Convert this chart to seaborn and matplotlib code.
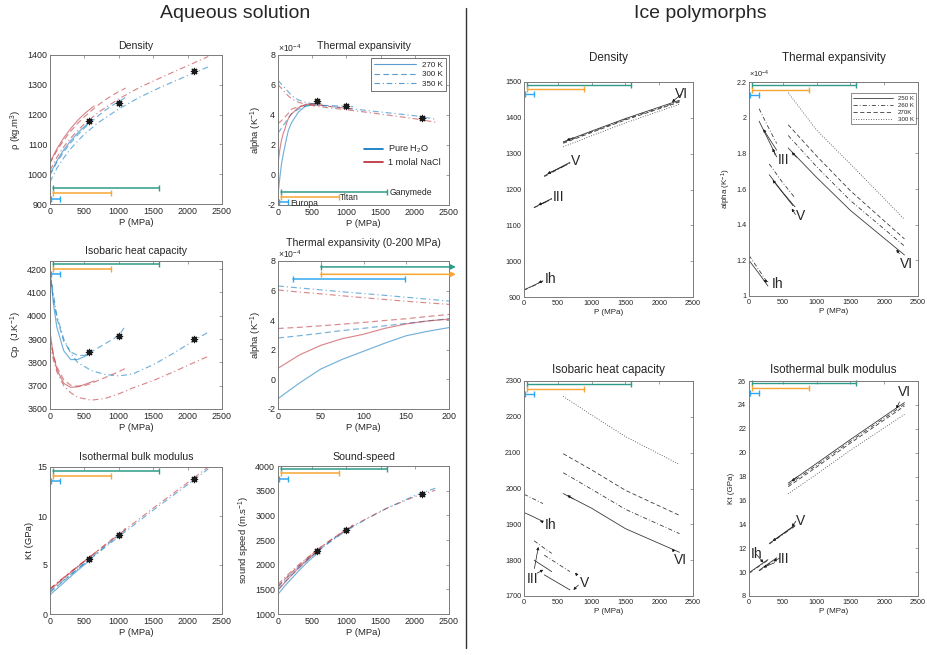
import matplotlib
matplotlib.use("Agg")
import matplotlib.pyplot as plt
from matplotlib.lines import Line2D
from matplotlib.ticker import FormatStrFormatter
import numpy as np
import pandas as pd
import seaborn as sns

sns.set_theme(style="white")
plt.rcParams["font.family"] = ["Liberation Sans", "DejaVu Sans"]
plt.rcParams["mathtext.default"] = "regular"

# ======================= DATA =======================
TEMPS_AQ = ["270 K", "300 K", "350 K"]
FLUIDS = ["Pure H$_2$O", "1 molal NaCl"]
TEMPS_ICE = ["250 K", "260 K", "270K", "300 K"]

# mission pressure ranges (MPa)
europa_P = [18, 149]
titan_P = [50, 890]
ganymede_P = [50, 1590]

# black asterisks
star_P = [570, 1000, 2100]
star_rho = [1178, 1240, 1345]
star_alpha = [4.92, 4.61, 3.80]
star_cp = [3845, 3915, 3900]
star_kt = [5.6, 8.1, 13.8]
star_vs = [2270, 2700, 3425]

# ---- aqueous density (kg/m3)
rho_P_w270 = [0, 100, 200, 300, 400, 500, 620]
rho_w270 = [1000, 1045, 1082, 1112, 1138, 1160, 1184]
rho_P_s270 = [0, 100, 200, 300, 400, 500, 640]
rho_s270 = [1040, 1085, 1122, 1153, 1180, 1203, 1229]
rho_P_300 = [0, 100, 200, 300, 400, 500, 600, 700, 800, 900, 1000, 1100]
rho_w300 = [997, 1040, 1075, 1105, 1131, 1155, 1176, 1196, 1214, 1230, 1244, 1258]
rho_s300 = [1037, 1079, 1114, 1144, 1170, 1193, 1213, 1232, 1249, 1264, 1277, 1289]
rho_P_350 = [0, 100, 200, 300, 400, 500, 700, 1000, 1300, 1600, 2000, 2300]
rho_w350 = [974, 1020, 1055, 1085, 1111, 1134, 1173, 1219, 1258, 1291, 1331, 1360]
rho_s350 = [1013, 1057, 1092, 1121, 1146, 1169, 1207, 1253, 1291, 1323, 1364, 1395]

# ---- aqueous thermal expansivity (x1e-4 1/K)
al_P_w270 = [0, 25, 50, 75, 100, 125, 150, 175, 200, 300, 400, 500, 620]
al_w270 = [-1.3, -0.25, 0.7, 1.35, 1.9, 2.45, 2.95, 3.25, 3.5, 4.2, 4.6, 4.75, 4.8]
al_P_s270 = [0, 25, 50, 75, 100, 125, 150, 175, 200, 300, 400, 500, 640]
al_s270 = [0.75, 1.65, 2.3, 2.75, 3.05, 3.45, 3.75, 3.95, 4.07, 4.5, 4.7, 4.75, 4.72]
al_P_300 = [0, 25, 50, 75, 100, 125, 150, 175, 200, 300, 400, 500, 600, 800, 1000, 1100]
al_w300 = [2.8, 2.95, 3.12, 3.3, 3.45, 3.62, 3.78, 3.95, 4.1, 4.4, 4.58, 4.65, 4.65, 4.62, 4.58, 4.55]
al_s300 = [3.44, 3.52, 3.62, 3.73, 3.85, 3.98, 4.1, 4.25, 4.39, 4.55, 4.65, 4.68, 4.65, 4.55, 4.45, 4.4]
al_P_350 = [0, 25, 50, 75, 100, 125, 150, 175, 200, 300, 400, 500, 700, 1000, 1300, 1600, 2000, 2300]
al_w350 = [6.31, 6.18, 6.05, 5.92, 5.8, 5.68, 5.55, 5.42, 5.29, 5.0, 4.85, 4.75, 4.6, 4.45, 4.3, 4.15, 3.95, 3.72]
al_s350 = [6.04, 5.9, 5.78, 5.65, 5.52, 5.4, 5.28, 5.17, 5.07, 4.85, 4.72, 4.63, 4.5, 4.35, 4.18, 4.0, 3.75, 3.52]

# ---- aqueous isobaric heat capacity (J/K)
cp_P_w270 = [0, 50, 100, 200, 300, 400, 500, 560]
cp_w270 = [4200, 4050, 3950, 3850, 3812, 3812, 3825, 3835]
cp_P_s270 = [0, 50, 100, 200, 300, 400, 500, 640]
cp_s270 = [3930, 3830, 3770, 3710, 3693, 3695, 3705, 3720]
cp_P_300 = [0, 50, 100, 200, 300, 400, 500, 600, 800, 1000, 1100]
cp_w300 = [4190, 4070, 3990, 3890, 3845, 3830, 3830, 3845, 3880, 3915, 3958]
cp_s300 = [3900, 3830, 3780, 3725, 3702, 3698, 3700, 3710, 3735, 3760, 3775]
cp_P_350 = [0, 50, 100, 200, 300, 400, 600, 800, 1000, 1200, 1500, 1800, 2100, 2300]
cp_w350 = [4190, 4090, 4000, 3900, 3840, 3800, 3765, 3748, 3742, 3750, 3790, 3840, 3895, 3930]
cp_s350 = [3880, 3810, 3760, 3700, 3670, 3650, 3638, 3645, 3665, 3690, 3722, 3760, 3800, 3826]

# ---- aqueous isothermal bulk modulus (GPa)
kt_P_w270 = [0, 200, 400, 620]
kt_w270 = [1.95, 3.2, 4.45, 5.7]
kt_P_s270 = [0, 200, 400, 640]
kt_s270 = [2.45, 3.65, 4.8, 6.15]
kt_P_300 = [0, 200, 400, 600, 800, 1000, 1100]
kt_w300 = [2.2, 3.4, 4.6, 5.75, 6.9, 8.05, 8.6]
kt_s300 = [2.55, 3.7, 4.85, 5.95, 7.05, 8.2, 8.75]
kt_P_350 = [0, 200, 400, 600, 1000, 1500, 2000, 2300]
kt_w350 = [2.3, 3.45, 4.6, 5.7, 7.9, 10.6, 13.2, 14.8]
kt_s350 = [2.6, 3.75, 4.85, 5.95, 8.1, 10.8, 13.4, 15.0]

# ---- aqueous sound speed (m/s)
vs_P_w270 = [0, 100, 200, 300, 400, 500, 620]
vs_w270 = [1400, 1570, 1720, 1870, 2010, 2140, 2280]
vs_P_s270 = [0, 100, 200, 300, 400, 500, 640]
vs_s270 = [1480, 1640, 1790, 1930, 2060, 2180, 2330]
vs_P_300 = [0, 100, 200, 300, 400, 500, 600, 800, 1000, 1100]
vs_w300 = [1500, 1650, 1790, 1925, 2055, 2180, 2300, 2510, 2700, 2790]
vs_s300 = [1560, 1705, 1840, 1970, 2095, 2215, 2330, 2530, 2720, 2805]
vs_P_350 = [0, 100, 200, 300, 400, 600, 800, 1000, 1300, 1600, 2000, 2300]
vs_w350 = [1550, 1695, 1830, 1960, 2080, 2300, 2500, 2690, 2930, 3150, 3400, 3550]
vs_s350 = [1600, 1740, 1870, 1995, 2110, 2330, 2525, 2710, 2940, 3150, 3380, 3510]

# ---- ice polymorphs: pressures per phase
ice_P_Ih = [0, 140, 280]
ice_P_III = [150, 280, 410]
ice_P_V = [300, 490, 680]
ice_P_VI = [580, 1000, 1500, 2300]

# ice density (kg/m3)
irho_Ih = {"250 K": [920, 932, 945], "260 K": [919, 931, 944]}
irho_III = {"250 K": [1150, 1162, 1175], "260 K": [1149, 1161, 1173]}
irho_V = {"250 K": [1238, 1257, 1276], "260 K": [1236, 1255, 1274]}
irho_VI = {"250 K": [1333, 1363, 1398, 1449], "260 K": [1331, 1361, 1396, 1446],
           "270K": [1329, 1359, 1394, 1444], "300 K": [1319, 1350, 1386, 1438]}

# ice thermal expansivity (x1e-4 1/K)
ial_Ih = {"250 K": [1.20, 1.13, 1.056], "260 K": [1.228, 1.15, 1.071]}
ial_III = {"250 K": [1.98, 1.88, 1.78], "260 K": [2.05, 1.95, 1.855]}
ial_V = {"250 K": [1.68, 1.585, 1.50], "260 K": [1.74, 1.64, 1.55]}
ial_VI = {"250 K": [1.83, 1.665, 1.48, 1.23], "260 K": [1.90, 1.725, 1.535, 1.28],
          "270K": [1.96, 1.785, 1.59, 1.32], "300 K": [2.14, 1.93, 1.74, 1.43]}

# ice heat capacity (J/K)
icp_Ih = {"250 K": [1933, 1921, 1908], "260 K": [1984, 1971, 1958]}
icp_III = {"250 K": [1800, 1784, 1768], "260 K": [1854, 1836, 1819]}
icp_V = {"250 K": [1759, 1738, 1717], "260 K": [1814, 1791, 1768]}
icp_VI = {"250 K": [1986, 1945, 1888, 1822], "260 K": [2044, 1998, 1942, 1874],
          "270K": [2097, 2052, 1995, 1925], "300 K": [2257, 2205, 2145, 2067]}

# ice bulk modulus (GPa)
ikt_Ih = {"250 K": [9.95, 10.5, 11.05], "260 K": [9.9, 10.45, 11.0]}
ikt_III = {"250 K": [10.15, 10.68, 11.2], "260 K": [10.1, 10.62, 11.12]}
ikt_V = {"250 K": [12.4, 13.15, 13.9], "260 K": [12.35, 13.1, 13.85]}
ikt_VI = {"250 K": [17.45, 19.1, 21.1, 24.2], "260 K": [17.3, 18.95, 20.95, 24.05],
          "270K": [17.15, 18.8, 20.8, 23.9], "300 K": [16.55, 18.2, 20.2, 23.2]}

# phase label annotations: (label, text P, text value, [target (P, value)...])
ann_rho = [("Ih", 300, 951, [(212, 940)]), ("III", 420, 1180, [(212, 1157)]),
           ("V", 690, 1280, [(346, 1244)]), ("VI", 2230, 1466, [(2189, 1444), (632, 1337)])]
ann_al = [("Ih", 330, 1.07, [(212, 1.086)]), ("III", 420, 1.76, [(212, 1.935), (350, 1.827)]),
          ("V", 700, 1.45, [(350, 1.65), (632, 1.49)]), ("VI", 2240, 1.18, [(2180, 1.26), (632, 1.806)])]
ann_cp = [("Ih", 300, 1898, [(237, 1910)]), ("III", 40, 1748, [(212, 1837), (286, 1773)]),
          ("V", 830, 1735, [(755, 1765), (730, 1717)]), ("VI", 2220, 1800, [(2189, 1832), (640, 1981)])]
ann_kt = [("Ih", 20, 11.5, [(212, 10.8)]), ("III", 430, 11.1, [(212, 10.4), (360, 10.9)]),
          ("V", 700, 14.3, [(350, 12.6), (632, 13.8)]), ("VI", 2200, 25.1, [(2180, 23.7), (632, 17.6)])]

# ======================= STYLE =======================
BLUE = "#0072BD"
RED = "#B8282E"
TEAL = "#2E9C8A"
ORANGE = "#F7A634"
LBLUE = "#30A8F0"
SPINE = "#7a7a7a"
TXT = "#262626"
AQ_DASH = {"270 K": "", "300 K": (5, 3), "350 K": (5, 2.5, 1, 2.5)}
ICE_DASH = {"250 K": "", "260 K": (5, 2.5, 1, 2.5), "270K": (5, 3), "300 K": (1, 2)}
MPL_LS = {"": "-", (5, 3): (0, (5, 3)), (5, 2.5, 1, 2.5): (0, (5, 2.5, 1, 2.5)), (1, 2): (0, (1, 2))}

W, H = 927, 655
fig = plt.figure(figsize=(W / 100, H / 100), dpi=100)


def pax(l, t, r, b):
    return fig.add_axes([l / W, 1 - b / H, (r - l) / W, (b - t) / H])


def aq_frame(curves):
    rows = []
    for fluid, temp, P, v in curves:
        for p, y in zip(P, v):
            rows.append({"P": p, "v": y, "fluid": fluid, "temp": temp})
    return pd.DataFrame(rows)


def ice_frame(phases):
    rows = []
    for name, P, d in phases:
        for temp, v in d.items():
            for p, y in zip(P, v):
                rows.append({"P": p, "v": y, "phase": name, "temp": temp})
    return pd.DataFrame(rows)


def draw_aq(ax, df):
    for fluid, col in zip(FLUIDS, [BLUE, RED]):
        sub = df[df.fluid == fluid]
        sns.lineplot(data=sub, x="P", y="v", style="temp", style_order=TEMPS_AQ,
                     dashes=AQ_DASH, color=col, alpha=0.55, lw=0.85,
                     estimator=None, legend=False, ax=ax)


def draw_ice(ax, df):
    sns.lineplot(data=df, x="P", y="v", style="temp", style_order=TEMPS_ICE, units="phase",
                 dashes=ICE_DASH, color="#3a3a3a", lw=0.6,
                 estimator=None, legend=False, ax=ax)


def stars(ax, vals):
    sns.scatterplot(x=star_P, y=vals, ax=ax, marker=(8, 2, 0), s=20, color="k",
                    linewidth=0.9, edgecolor="k", zorder=5, legend=False)


def style_ax(ax, xlim, ylim, xticks, yticks, fs, fmt="%g"):
    ax.set_xlim(*xlim)
    ax.set_ylim(*ylim)
    ax.set_xticks(xticks)
    ax.set_yticks(yticks)
    ax.yaxis.set_major_formatter(FormatStrFormatter(fmt))
    ax.tick_params(direction="in", top=True, right=True, length=2.5, width=0.5,
                   labelsize=fs, colors=SPINE, labelcolor=TXT, pad=2)
    for s in ax.spines.values():
        s.set_color(SPINE)
        s.set_linewidth(0.7)
    ax.set_xlabel("")
    ax.set_ylabel("")


def bars(ax, fracs, lw=1.1, ms=4.5, arrows=False):
    tr = ax.get_xaxis_transform()
    for (rng, col), yf in zip([(ganymede_P, TEAL), (titan_P, ORANGE), (europa_P, LBLUE)], fracs):
        if arrows and rng is not europa_P:
            ax.plot([rng[0]], [yf], marker="|", ms=ms, mew=1.0, color=col, transform=tr, clip_on=False)
            ax.annotate("", xy=(208, yf), xytext=(rng[0], yf), xycoords=tr, textcoords=tr,
                        annotation_clip=False,
                        arrowprops=dict(arrowstyle="-|>", color=col, lw=lw, mutation_scale=7,
                                        shrinkA=0, shrinkB=0))
        else:
            ax.plot(rng, [yf, yf], color=col, lw=lw, transform=tr, clip_on=False)
            ax.plot(rng, [yf, yf], ls="none", marker="|", ms=ms, mew=1.0, color=col,
                    transform=tr, clip_on=False)


def annotate_phases(ax, anns, fs=10):
    for lab, tx, ty, targets in anns:
        px, py = targets[0]
        ax.annotate(lab, xy=(px, py), xytext=(tx, ty), fontsize=fs, ha="left", va="center",
                    color=TXT,
                    arrowprops=dict(arrowstyle="-|>", color="k", lw=0.5, mutation_scale=4,
                                    shrinkA=0, shrinkB=0))
        for px, py in targets[1:]:
            p0 = ax.transData.transform((px, py))
            p1 = ax.transData.transform((tx, ty))
            d = (p1 - p0) / np.hypot(*(p1 - p0))
            off = d * 7 * 0.72
            ax.annotate("", xy=(px, py), xytext=(off[0], off[1]), textcoords="offset points",
                        arrowprops=dict(arrowstyle="-|>", color="k", lw=0.5, mutation_scale=4,
                                        shrinkA=0, shrinkB=0))


X25 = [0, 500, 1000, 1500, 2000, 2500]
AQ_FS, AQ_LAB, AQ_TIT = 6.4, 6.8, 7.6
ICE_FS, ICE_LAB, ICE_TIT = 5.2, 5.8, 8.4

# ---------------- aqueous panels ----------------
ax1 = pax(50, 55, 222, 204)
draw_aq(ax1, aq_frame([(FLUIDS[0], "270 K", rho_P_w270, rho_w270), (FLUIDS[1], "270 K", rho_P_s270, rho_s270),
                       (FLUIDS[0], "300 K", rho_P_300, rho_w300), (FLUIDS[1], "300 K", rho_P_300, rho_s300),
                       (FLUIDS[0], "350 K", rho_P_350, rho_w350), (FLUIDS[1], "350 K", rho_P_350, rho_s350)]))
stars(ax1, star_rho)
style_ax(ax1, (0, 2500), (900, 1400), X25, range(900, 1401, 100), AQ_FS)
bars(ax1, [0.108, 0.072, 0.036])
ax1.set_title("Density", fontsize=AQ_TIT, pad=4, color=TXT)
ax1.set_ylabel("ρ (kg.m$^3$)", fontsize=AQ_LAB, color=TXT, labelpad=2)

al_df = aq_frame([(FLUIDS[0], "270 K", al_P_w270, al_w270), (FLUIDS[1], "270 K", al_P_s270, al_s270),
                  (FLUIDS[0], "300 K", al_P_300, al_w300), (FLUIDS[1], "300 K", al_P_300, al_s300),
                  (FLUIDS[0], "350 K", al_P_350, al_w350), (FLUIDS[1], "350 K", al_P_350, al_s350)])
ax2 = pax(278, 55, 449, 205)
draw_aq(ax2, al_df)
stars(ax2, star_alpha)
style_ax(ax2, (0, 2500), (-2, 8), X25, range(-2, 9, 2), AQ_FS)
bars(ax2, [0.085, 0.055, 0.02])
tr2 = ax2.get_xaxis_transform()
ax2.text(ganymede_P[1] + 40, 0.082, "Ganymede", transform=tr2, fontsize=6.2, va="center", color=TXT)
ax2.text(titan_P[1] + 20, 0.05, "Titan", transform=tr2, fontsize=6.2, va="center", color=TXT)
ax2.text(europa_P[1] + 30, 0.012, "Europa", transform=tr2, fontsize=6.2, va="center", color=TXT)
ax2.set_title("Thermal expansivity", fontsize=AQ_TIT, pad=4, color=TXT)
ax2.set_ylabel("alpha (K$^{-1}$)", fontsize=AQ_LAB, color=TXT, labelpad=2)
ax2.text(0.0, 1.01, "×10$^{-4}$", transform=ax2.transAxes, fontsize=6.2, va="bottom", color=TXT)
h_t = [Line2D([0], [0], color="#5d9ccf", lw=0.8, ls=MPL_LS[AQ_DASH[t]]) for t in TEMPS_AQ]
leg1 = ax2.legend(h_t, TEMPS_AQ, loc="upper right", fontsize=5.8, frameon=True, fancybox=False,
                  edgecolor="#333333", handlelength=5.2, borderpad=0.35, labelspacing=0.25,
                  handletextpad=0.8, borderaxespad=0.4)
leg1.get_frame().set_linewidth(0.6)
ax2.add_artist(leg1)
h_f = [Line2D([0], [0], color=BLUE, lw=1.2), Line2D([0], [0], color=RED, lw=1.2)]
ax2.legend(h_f, FLUIDS, loc="center right", bbox_to_anchor=(1.0, 0.33), fontsize=6.6, frameon=False,
           handlelength=2.0, labelspacing=0.3, handletextpad=0.6)

ax3 = pax(50, 261, 222, 409)
draw_aq(ax3, aq_frame([(FLUIDS[0], "270 K", cp_P_w270, cp_w270), (FLUIDS[1], "270 K", cp_P_s270, cp_s270),
                       (FLUIDS[0], "300 K", cp_P_300, cp_w300), (FLUIDS[1], "300 K", cp_P_300, cp_s300),
                       (FLUIDS[0], "350 K", cp_P_350, cp_w350), (FLUIDS[1], "350 K", cp_P_350, cp_s350)]))
stars(ax3, star_cp)
style_ax(ax3, (0, 2500), (3600, 4235), X25, range(3600, 4201, 100), AQ_FS)
bars(ax3, [0.978, 0.945, 0.913])
ax3.set_title("Isobaric heat capacity", fontsize=AQ_TIT, pad=5, color=TXT)
ax3.set_ylabel("Cp  (J.K$^{-1}$)", fontsize=AQ_LAB, color=TXT, labelpad=2)

ax4 = pax(278, 261, 449, 409)
draw_aq(ax4, al_df)
style_ax(ax4, (0, 200), (-2, 8), [0, 50, 100, 150, 200], range(-2, 9, 2), AQ_FS)
bars(ax4, [0.96, 0.91, 0.88], arrows=True)
ax4.set_title("Thermal expansivity (0-200 MPa)", fontsize=AQ_TIT, pad=11, color=TXT)
ax4.set_ylabel("alpha (K$^{-1}$)", fontsize=AQ_LAB, color=TXT, labelpad=2)
ax4.text(0.0, 1.01, "×10$^{-4}$", transform=ax4.transAxes, fontsize=6.2, va="bottom", color=TXT)

ax5 = pax(50, 467, 222, 614)
draw_aq(ax5, aq_frame([(FLUIDS[0], "270 K", kt_P_w270, kt_w270), (FLUIDS[1], "270 K", kt_P_s270, kt_s270),
                       (FLUIDS[0], "300 K", kt_P_300, kt_w300), (FLUIDS[1], "300 K", kt_P_300, kt_s300),
                       (FLUIDS[0], "350 K", kt_P_350, kt_w350), (FLUIDS[1], "350 K", kt_P_350, kt_s350)]))
stars(ax5, star_kt)
style_ax(ax5, (0, 2500), (0, 15), X25, [0, 5, 10, 15], AQ_FS)
bars(ax5, [0.973, 0.94, 0.907])
ax5.set_title("Isothermal bulk modulus", fontsize=AQ_TIT, pad=5, color=TXT)
ax5.set_ylabel("Kt (GPa)", fontsize=AQ_LAB, color=TXT, labelpad=2)

ax6 = pax(278, 466, 449, 614)
draw_aq(ax6, aq_frame([(FLUIDS[0], "270 K", vs_P_w270, vs_w270), (FLUIDS[1], "270 K", vs_P_s270, vs_s270),
                       (FLUIDS[0], "300 K", vs_P_300, vs_w300), (FLUIDS[1], "300 K", vs_P_300, vs_s300),
                       (FLUIDS[0], "350 K", vs_P_350, vs_w350), (FLUIDS[1], "350 K", vs_P_350, vs_s350)]))
stars(ax6, star_vs)
style_ax(ax6, (0, 2500), (1000, 4000), X25, range(1000, 4001, 500), AQ_FS)
bars(ax6, [0.977, 0.95, 0.914])
ax6.set_title("Sound-speed", fontsize=AQ_TIT, pad=4, color=TXT)
ax6.set_ylabel("sound speed (m.s$^{-1}$)", fontsize=AQ_LAB, color=TXT, labelpad=2)

for ax in (ax1, ax2, ax3, ax4, ax5, ax6):
    ax.set_xlabel("P (MPa)", fontsize=AQ_LAB, color=TXT, labelpad=1.5)

# ---------------- ice panels ----------------
ax7 = pax(524, 82, 693, 297)
draw_ice(ax7, ice_frame([("Ih", ice_P_Ih, irho_Ih), ("III", ice_P_III, irho_III),
                         ("V", ice_P_V, irho_V), ("VI", ice_P_VI, irho_VI)]))
style_ax(ax7, (0, 2500), (900, 1500), X25, range(900, 1501, 100), ICE_FS)
bars(ax7, [0.988, 0.967, 0.943], lw=1.0, ms=4)
annotate_phases(ax7, ann_rho)
ax7.set_title("Density", fontsize=ICE_TIT, pad=15, color=TXT)

ax8 = pax(749, 82, 918, 296)
draw_ice(ax8, ice_frame([("Ih", ice_P_Ih, ial_Ih), ("III", ice_P_III, ial_III),
                         ("V", ice_P_V, ial_V), ("VI", ice_P_VI, ial_VI)]))
style_ax(ax8, (0, 2500), (1, 2.2), X25, [1, 1.2, 1.4, 1.6, 1.8, 2, 2.2], ICE_FS)
bars(ax8, [0.988, 0.963, 0.938], lw=1.0, ms=4)
annotate_phases(ax8, ann_al)
ax8.set_title("Thermal expansivity", fontsize=ICE_TIT, pad=15, color=TXT)
ax8.set_ylabel("alpha (K$^{-1}$)", fontsize=ICE_LAB, color=TXT, labelpad=2)
ax8.text(0.0, 1.01, "×10$^{-4}$", transform=ax8.transAxes, fontsize=5.4, va="bottom", color=TXT)
h_i = [Line2D([0], [0], color="#3a3a3a", lw=0.6, ls=MPL_LS[ICE_DASH[t]]) for t in TEMPS_ICE]
lg = ax8.legend(h_i, TEMPS_ICE, loc="upper right", bbox_to_anchor=(1.0, 0.955), fontsize=4.4,
                frameon=True, fancybox=False, edgecolor="#333333", handlelength=6.5, borderpad=0.35,
                labelspacing=0.3, handletextpad=0.8, borderaxespad=0.3)
lg.get_frame().set_linewidth(0.5)

ax9 = pax(524, 381, 693, 596)
draw_ice(ax9, ice_frame([("Ih", ice_P_Ih, icp_Ih), ("III", ice_P_III, icp_III),
                         ("V", ice_P_V, icp_V), ("VI", ice_P_VI, icp_VI)]))
style_ax(ax9, (0, 2500), (1700, 2300), X25, range(1700, 2301, 100), ICE_FS)
bars(ax9, [0.985, 0.962, 0.938], lw=1.0, ms=4)
annotate_phases(ax9, ann_cp)
ax9.set_title("Isobaric heat capacity", fontsize=ICE_TIT, pad=6, color=TXT)

ax10 = pax(749, 381, 918, 596)
draw_ice(ax10, ice_frame([("Ih", ice_P_Ih, ikt_Ih), ("III", ice_P_III, ikt_III),
                          ("V", ice_P_V, ikt_V), ("VI", ice_P_VI, ikt_VI)]))
style_ax(ax10, (0, 2500), (8, 26), X25, range(8, 27, 2), ICE_FS)
bars(ax10, [0.992, 0.967, 0.944], lw=1.0, ms=4)
annotate_phases(ax10, ann_kt)
ax10.set_title("Isothermal bulk modulus", fontsize=ICE_TIT, pad=6, color=TXT)
ax10.set_ylabel("Kt (GPa)", fontsize=ICE_LAB, color=TXT, labelpad=2)

for ax in (ax7, ax8, ax9, ax10):
    ax.set_xlabel("P (MPa)", fontsize=ICE_LAB, color=TXT, labelpad=1.5)

# ---------------- figure-level ----------------
fig.text(235 / W, 1 - 14 / H, "Aqueous solution", fontsize=14, ha="center", va="center", color=TXT)
fig.text(700 / W, 1 - 14 / H, "Ice polymorphs", fontsize=14, ha="center", va="center", color=TXT)
fig.add_artist(Line2D([466 / W, 466 / W], [1 - 8 / H, 1 - 648 / H], color="#333333", lw=1.0))

fig.savefig("out.png", dpi=100)
